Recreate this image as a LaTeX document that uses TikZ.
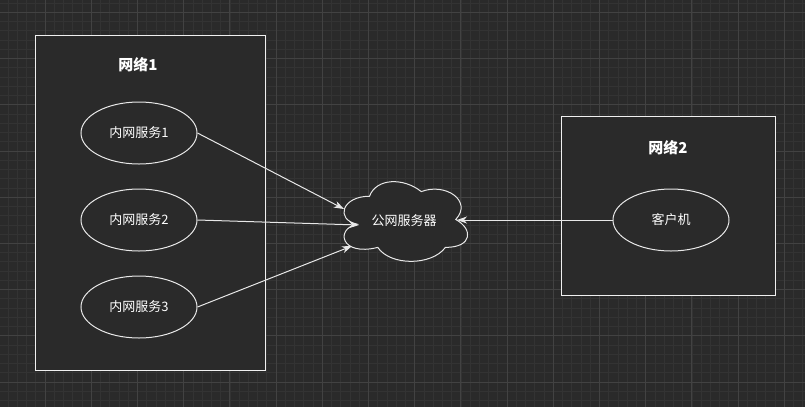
\documentclass[tikz,border=0pt]{standalone}
\usepackage{fontspec}
\setmainfont{Noto Sans CJK SC}
\usetikzlibrary{shapes.geometric,arrows.meta}

\definecolor{bgdark}{HTML}{2A2A2A}
\definecolor{gridminor}{HTML}{333333}
\definecolor{gridmajor}{HTML}{424242}
\definecolor{edgegray}{HTML}{E8E8E8}
\definecolor{boxwhite}{HTML}{F0F0F0}

\tikzset{
  netbox/.style={draw=boxwhite, fill=bgdark, line width=1pt},
  nettitle/.style={text=white, font=\fontsize{15}{18}\selectfont\bfseries},
  service/.style={ellipse, draw=edgegray, fill=bgdark, line width=1pt,
    minimum width=116pt, minimum height=62pt, inner sep=0pt,
    text=white, font=\fontsize{13}{16}\selectfont},
  link/.style={draw=edgegray, line width=1pt, -{Stealth[length=10pt,width=7pt,inset=3pt]}}
}

\begin{document}
\begin{tikzpicture}[x=1pt,y=-1pt]
            % Background and grid
            \fill[bgdark] (0,0) rectangle (805,407);
            \useasboundingbox (0,0) rectangle (805,407);
            \foreach \i in {0,...,88} {
              \draw[gridminor, line width=0.6pt] ({-1.2+\i*9.24},0) -- ++(0,407);
            }
            \foreach \j in {-1,...,44} {
              \draw[gridminor, line width=0.6pt] (0,{12.3+\j*9.24}) -- ++(805,0);
            }
            \foreach \i in {0,...,18} {
              \draw[gridmajor, line width=0.8pt] ({-1.2+\i*46.2},0) -- ++(0,407);
            }
            \foreach \j in {0,...,9} {
              \draw[gridmajor, line width=0.8pt] (0,{12.3+\j*46.2}) -- ++(805,0);
            }

            % Networks
            \draw[netbox] (35,35) rectangle (265,370);
            \draw[netbox] (561,116) rectangle (775,295);
            \node[nettitle] (net1) at (138,65) {网络1};
            \node[nettitle] (net2) at (668,148) {网络2};

            % Services
            \node[service] (svc1) at (139,133) {内网服务1};
            \node[service] (svc2) at (139,220) {内网服务2};
            \node[service] (svc3) at (139,307) {内网服务3};
            \node[service] (client) at (671,220) {客户机};

            % Cloud
            \begin{scope}[shift={(335,173)}, x=138pt, y=-93pt]
              \draw[edgegray, fill=bgdark, line width=1pt]
                (0.25,0.25) .. controls (0.05,0.25) and (0,0.5) .. (0.16,0.55)
                .. controls (0,0.6) and (0.04,0.9) .. (0.31,0.8)
                .. controls (0.4,1) and (0.7,1) .. (0.8,0.8)
                .. controls (1,0.8) and (1,0.6) .. (0.875,0.5)
                .. controls (1,0.3) and (0.8,0.1) .. (0.625,0.2)
                .. controls (0.5,0.05) and (0.3,0.05) .. (0.25,0.25) -- cycle;
            \end{scope}
            \node[text=white, font=\fontsize{13}{16}\selectfont] (server) at (404,221) {公网服务器};
            \coordinate (in1) at (344,209);
            \coordinate (in2) at (359,225);
            \coordinate (in3) at (352,246);
            \coordinate (in4) at (457,220);

            % Links
            \draw[link] (svc1.east) -- (in1);
            \draw[link] (svc2.east) -- (in2);
            \draw[link] (svc3.east) -- (in3);
            \draw[link] (client.west) -- (in4);

        \end{tikzpicture}
\end{document}
